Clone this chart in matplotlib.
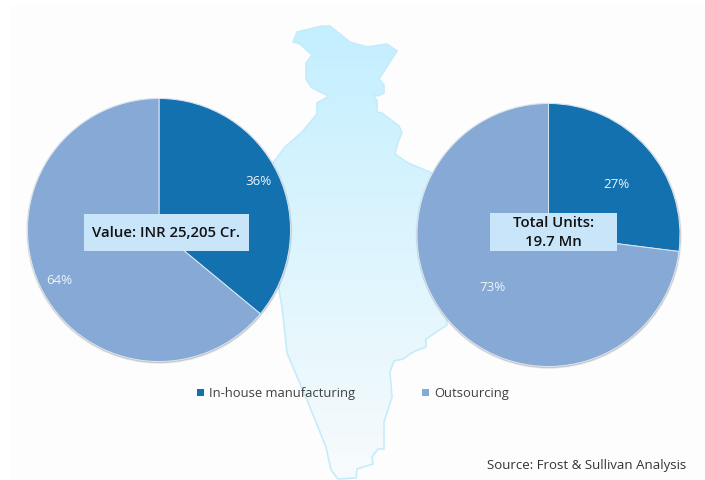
import numpy as np
import matplotlib
matplotlib.use("Agg")
import matplotlib.pyplot as plt
from matplotlib.patches import Polygon, Rectangle, Circle

W, H = 705, 480
categories = ["In-house manufacturing", "Outsourcing"]
value_share = [36, 64]
units_share = [27, 73]
value_title = "Value: INR 25,205 Cr."
units_title = "Total Units:\n19.7 Mn"
source = "Source: Frost & Sullivan Analysis"
colors = ["#1271ae", "#87a9d5"]

map_outline = [(293,42),(297,32),(322,26),(330,26),(350,42),(367,47),(387,44),(397,51),
    (379,79),(384,85),(384,93),(378,96),(373,94),(377,101),(377,112),(382,113),(399,126),
    (402,133),(398,142),(395,154),(408,163),(432,173),(447,325),(426,339),(426,347),
    (413,352),(403,359),(394,361),(390,372),(392,397),(384,422),(384,449),(378,449),
    (372,457),(373,464),(357,469),(356,478),(338,479),(331,470),(326,447),(307,400),
    (287,353),(282,307),(279,290),(273,163),(285,147),(302,132),(317,114),(317,103),
    (329,96),(320,92),(311,87),(306,79),(306,63),(312,55),(300,44)]

plt.rcParams["font.family"] = ["Open Sans", "DejaVu Sans"]
fig = plt.figure(figsize=(W/100, H/100), dpi=100, facecolor="white")
bg = fig.add_axes([0, 0, 1, 1])
bg.set_xlim(0, W); bg.set_ylim(H, 0); bg.axis("off")
bg.add_patch(Rectangle((10, 6), W-10, H-6, fc="#fdfdfd", ec="none"))

# map with vertical gradient
top, bottom = np.array([0xc3, 0xef, 0xff]), np.array([0xf8, 0xfb, 0xfc])
t = np.linspace(0, 1, 256)[:, None, None]
grad = (top[None, None, :] * (1 - t) + bottom[None, None, :] * t) / 255
im = bg.imshow(grad, extent=(270, 450, 480, 25), aspect="auto", zorder=1)
poly = Polygon(map_outline, closed=True, fc="none", ec="#c6ecfb", lw=1.2, zorder=2)
bg.add_patch(poly)
im.set_clip_path(poly)
bg.set_xlim(0, W); bg.set_ylim(H, 0)

def pie(cx, cy, r, vals):
    for dr, a in ((1.6, .10), (1.0, .18), (0.5, .28)):
        bg.add_patch(Circle((cx + .2, cy + .8), r + dr, fc="#808080", ec="none", alpha=a, zorder=3))
    ax = fig.add_axes([(cx - r) / W, 1 - (cy + r) / H, 2 * r / W, 2 * r / H])
    ax.pie(vals, colors=colors, startangle=90, counterclock=False, radius=1,
           wedgeprops=dict(edgecolor="#dbe7f2", linewidth=0.7))
    ax.set_xlim(-1, 1); ax.set_ylim(-1, 1); ax.set_aspect("auto"); ax.axis("off")
    ax.patch.set_alpha(0)

pie(159, 230, 131.5, value_share)
pie(548.5, 235, 131.5, units_share)

top_ax = fig.add_axes([0, 0, 1, 1]); top_ax.set_xlim(0, W); top_ax.set_ylim(H, 0)
top_ax.axis("off"); top_ax.patch.set_alpha(0)

def pct(x, y, v):
    top_ax.text(x, y + 1.5, f"{v}%", color="#eef4fa", fontsize=9.6, ha="center", va="center")
pct(258, 180, value_share[0]); pct(59, 279, value_share[1])
pct(616, 183, units_share[0]); pct(492, 286, units_share[1])

def box(x0, y0, x1, y1, s, ls=1.0):
    top_ax.add_patch(Rectangle((x0, y0), x1 - x0, y1 - y0, fc="#c8e5f9", ec="none"))
    top_ax.text((x0 + x1) / 2, (y0 + y1) / 2 + .5, s, fontsize=10.7, fontweight="semibold", color="#111111",
                ha="center", va="center", linespacing=ls)
box(84, 214, 249, 251, value_title)
box(490, 213, 617, 251, units_title, ls=1.5)

for x, tx, c, s in ((197, 209, colors[0], categories[0]), (422, 434, colors[1], categories[1])):
    top_ax.add_patch(Rectangle((x, 389), 7, 7, fc=c, ec="none"))
    top_ax.text(tx, 393.5, s, fontsize=9.35, color="#404040", ha="left", va="center")

top_ax.text(487, 465, source, fontsize=9.5, color="#333333", ha="left", va="center")

fig.savefig("out.png", dpi=100)
